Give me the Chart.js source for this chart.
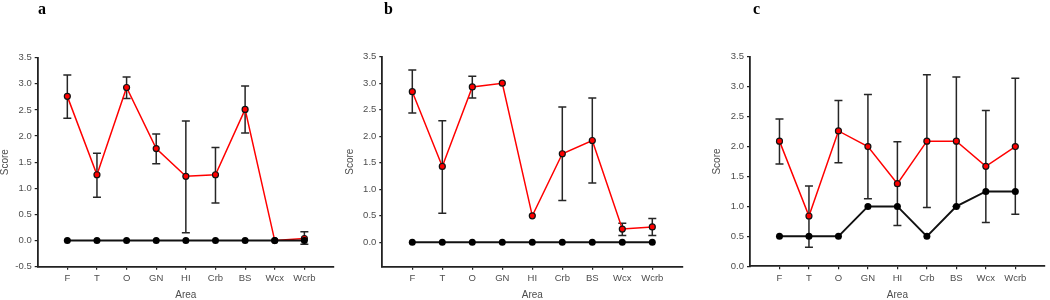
<!DOCTYPE html>
<html>
<head>
<meta charset="utf-8">
<script src="https://cdn.jsdelivr.net/npm/chart.js@4.4.1/dist/chart.umd.min.js"></script>
<style>
  body { margin: 0; background: #fff; }
  #wrap { position: relative; width: 1050px; height: 300px; overflow: hidden; }
  .panel { position: absolute; top: 0; height: 300px; }
  .lbl { position: absolute; top: 1px; font: bold 16px "Liberation Serif", "Times New Roman", serif; line-height: 16px; color: #000; }
</style>
</head>
<body>
<div id="wrap">
  <div class="panel" style="left:0;width:340px"><canvas id="chartA" width="340" height="300"></canvas></div>
  <div class="panel" style="left:340px;width:350px"><canvas id="chartB" width="350" height="300"></canvas></div>
  <div class="panel" style="left:700px;width:350px"><canvas id="chartC" width="350" height="300"></canvas></div>
  <div class="lbl" style="left:38px">a</div>
  <div class="lbl" style="left:384px">b</div>
  <div class="lbl" style="left:753px">c</div>
</div>
<script>
// categories
const areas = ["F", "T", "O", "GN", "HI", "Crb", "BS", "Wcx", "Wcrb"];

// panel a
const redA   = [2.76, 1.26, 2.93, 1.76, 1.23, 1.26, 2.51, 0.0, 0.04];
const hiA    = [3.17, 1.67, 3.13, 2.04, 2.29, 1.78, 2.96, null, 0.17];
const loA    = [2.34, 0.83, 2.72, 1.47, 0.15, 0.72, 2.06, null, -0.07];
const blackA = [0, 0, 0, 0, 0, 0, 0, 0, 0];
const ticksA = [-0.5, 0, 0.5, 1, 1.5, 2, 2.5, 3, 3.5];

// panel b
const redB   = [2.84, 1.43, 2.93, 3.0, 0.5, 1.67, 1.92, 0.25, 0.29];
const hiB    = [3.25, 2.29, 3.13, null, null, 2.55, 2.72, 0.36, 0.45];
const loB    = [2.44, 0.55, 2.72, null, null, 0.79, 1.12, 0.13, 0.13];
const blackB = [0, 0, 0, 0, 0, 0, 0, 0, 0];
const ticksB = [0, 0.5, 1, 1.5, 2, 2.5, 3, 3.5];

// panel c
const redC   = [2.09, 0.84, 2.26, 2.0, 1.38, 2.09, 2.09, 1.67, 2.0];
const hiC    = [2.46, 1.34, 2.77, 2.87, 2.08, 3.2, 3.16, 2.6, 3.14];
const loC    = [1.71, 0.32, 1.73, 1.13, 0.68, 0.98, 1.0, 0.73, 0.87];
const blackC = [0.5, 0.5, 0.5, 1.0, 1.0, 0.5, 1.0, 1.25, 1.25];
const ticksC = [0, 0.5, 1, 1.5, 2, 2.5, 3, 3.5];

const labelColor = "#4d4d4d";
const axisColor = "#222";

// error bars drawn under the lines
const errorBars = {
    id: "errorBars",
    beforeDatasetsDraw(chart, args, opts) {
        const { ctx, scales: { x, y } } = chart;
        ctx.save();
        ctx.strokeStyle = "#262626";
        ctx.lineWidth = 1.5;
        opts.hi.forEach((h, i) => {
            if (h == null) return;
            const px = x.getPixelForValue(i + 1);
            const top = y.getPixelForValue(h);
            const bot = y.getPixelForValue(opts.lo[i]);
            ctx.beginPath();
            ctx.moveTo(px, top); ctx.lineTo(px, bot);
            ctx.moveTo(px - 4, top); ctx.lineTo(px + 4, top);
            ctx.moveTo(px - 4, bot); ctx.lineTo(px + 4, bot);
            ctx.stroke();
        });
        ctx.restore();
    }
};

const toPoints = arr => arr.map((v, i) => ({ x: i + 1, y: v }));

function makePanel(id, red, hi, lo, black, yMin, yTicks, d) {
    return new Chart(document.getElementById(id), {
        type: "line",
        data: {
            datasets: [
                {
                    data: toPoints(black),
                    borderColor: "#111",
                    borderWidth: 2,
                    pointRadius: 3.5,
                    pointBackgroundColor: "#000",
                    pointBorderColor: "#000",
                    pointBorderWidth: 0,
                    tension: 0
                },
                {
                    data: toPoints(red),
                    borderColor: "#ff0000",
                    borderWidth: 1.5,
                    pointRadius: 3,
                    pointBackgroundColor: "#ff0000",
                    pointBorderColor: "#111",
                    pointBorderWidth: 1.2,
                    tension: 0
                }
            ]
        },
        options: {
            responsive: false,
            animation: false,
            layout: { padding: { top: d.top, right: d.right, bottom: 0, left: 0 } },
            plugins: {
                legend: { display: false },
                tooltip: { enabled: false },
                errorBars: { hi: hi, lo: lo }
            },
            scales: {
                x: {
                    type: "linear",
                    min: 0,
                    max: areas.length + 1,
                    afterBuildTicks: s => { s.ticks = areas.map((a, i) => ({ value: i + 1 })); },
                    afterFit: s => { s.height = 300 - d.bottom; },
                    ticks: {
                        callback: v => areas[v - 1],
                        color: labelColor,
                        font: { family: "'Liberation Sans', Arial, sans-serif", size: 9.5 },
                        padding: 3,
                        maxRotation: 0,
                        autoSkip: false
                    },
                    grid: { drawOnChartArea: false, drawTicks: true, tickLength: 3, color: axisColor, lineWidth: 1.2 },
                    border: { display: true, color: axisColor, width: 1.8 },
                    title: {
                        display: true,
                        text: "Area",
                        color: labelColor,
                        font: { family: "'Liberation Sans', Arial, sans-serif", size: 10, lineHeight: 1 },
                        padding: { top: 0, bottom: 0 }
                    }
                },
                y: {
                    min: yMin,
                    max: 3.5,
                    afterBuildTicks: s => { s.ticks = yTicks.map(v => ({ value: v })); },
                    afterFit: s => { s.width = d.yw; },
                    ticks: {
                        callback: v => v.toFixed(1),
                        color: labelColor,
                        font: { family: "'Liberation Sans', Arial, sans-serif", size: 9.5 },
                        padding: 3
                    },
                    grid: { drawOnChartArea: false, drawTicks: true, tickLength: 3, color: axisColor, lineWidth: 1.2 },
                    border: { display: true, color: axisColor, width: 1.8 },
                    title: {
                        display: true,
                        text: "Score",
                        color: labelColor,
                        font: { family: "'Liberation Sans', Arial, sans-serif", size: 10, lineHeight: 1 },
                        padding: { top: d.tp, bottom: 0 }
                    }
                }
            }
        },
        plugins: [errorBars]
    });
}

makePanel("chartA", redA, hiA, loA, blackA, -0.5, ticksA, { top: 57.7, bottom: 266.7, right: 6, yw: 37.7, tp: 0 });
makePanel("chartB", redB, hiB, loB, blackB, -0.46, ticksB, { top: 56.7, bottom: 266.7, right: 7.7, yw: 42.3, tp: 5 });
makePanel("chartC", redC, hiC, loC, blackC, 0, ticksC, { top: 56.7, bottom: 266.3, right: 1, yw: 50, tp: 12 });
</script>
</body>
</html>
